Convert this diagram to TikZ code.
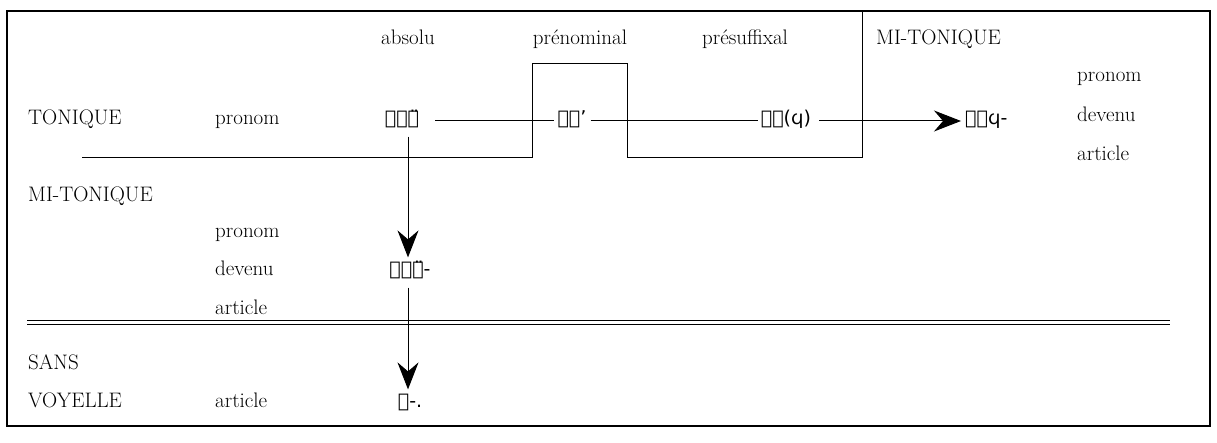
\documentclass[tikz,border=0pt]{standalone}
\usepackage{fontspec}
\usetikzlibrary{arrows.meta,calc}
\newfontfamily\copt{DejaVu Sans}
\begin{document}
\begin{tikzpicture}[x=1pt,y=-1pt,
  lbl/.style={font=\fontsize{21}{24}\selectfont, inner sep=0pt, anchor=base west},
  clbl/.style={lbl, anchor=base},
  cop/.style={font=\copt\fontsize{19}{22}\selectfont, inner sep=0pt, anchor=base},
  ln/.style={line width=1pt},
  arr/.style={ln, -{Stealth[length=27pt,width=21pt,inset=9pt]}}]
\useasboundingbox (0,0) rectangle (1217,443);
\draw[line width=1.2pt] (7,11) rectangle (1210,426);
% column headers
\node[clbl] (abs) at (408,45) {absolu};
\node[clbl] (pren) at (580,45) {prénominal};
\node[clbl] (pres) at (745,45) {présuffixal};
\node[lbl] (mitop) at (876,45) {MI-TONIQUE};
% right column
\node[lbl] (rpro) at (1077,82) {pronom};
\node[lbl] (rdev) at (1077,122) {devenu};
\node[lbl] (rart) at (1077,161) {article};
% left labels
\node[lbl] (ton) at (28,125) {TONIQUE};
\node[lbl] (pro1) at (215,125) {pronom};
\node[lbl] (mit) at (28,202) {MI-TONIQUE};
\node[lbl] (pro2) at (215,238) {pronom};
\node[lbl] (dev2) at (215,276) {devenu};
\node[lbl] (art2) at (215,315) {article};
\node[lbl] (sans) at (28,369) {SANS};
\node[lbl] (voy) at (28,407) {VOYELLE};
\node[lbl] (art3) at (215,407) {article};
% coptic forms
\node[cop] (pai) at (402,125) {ⲡⲁⲓ̈};
\node[cop] (pa) at (572,125) {ⲡⲁ’};
\node[cop] (pwf) at (786,125) {ⲡⲱ(ϥ)};
\node[cop, anchor=base west] (pef) at (965,125) {ⲡⲉϥ-};
\node[cop] (pei) at (410,276) {ⲡⲉⲓ̈-};
\node[cop] (p) at (410,407) {ⲡ-.};
% step line
\draw[ln] (82,158) -- (532,158) -- (532,64) -- (627,64) -- (627,158) -- (862,158) -- (862,11);
% double line
\draw[line width=0.8pt] (27,320) -- (1170,320);
\draw[line width=0.8pt] (27,324) -- (1170,324);
% connectors
\draw[ln] ($(pai.base east)+(16,-4)$) -- ($(pa.base west)+(-3,-4)$);
\draw[ln] ($(pa.base east)+(4,-4)$) -- ($(pwf.base west)+(-3,-4)$);
\draw[arr] ($(pwf.base east)+(8,-4)$) -- ($(pef.base west)+(-4,-4)$);
\draw[arr] (pai.south -| 408,0) ++(0,8) -- ($(pei.north -| 408,0)+(0,-4)$);
\draw[arr] ($(pei.south -| 408,0)+(0,8)$) -- ($(p.north -| 408,0)+(0,-4)$);
\end{tikzpicture}
\end{document}
